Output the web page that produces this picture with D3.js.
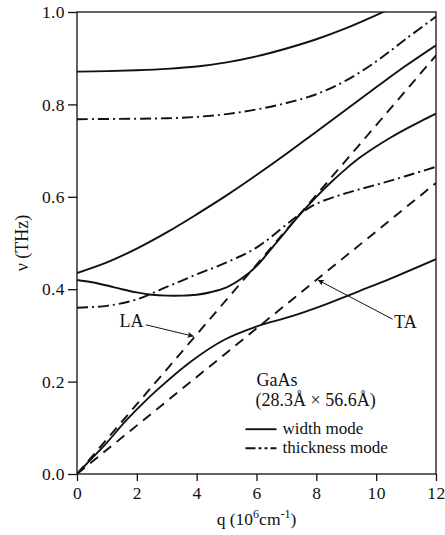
<!DOCTYPE html>
<html>
<head>
<meta charset="utf-8">
<script src="https://cdn.jsdelivr.net/npm/d3@7"></script>
<style>
  body { margin: 0; background: #fff; }
  svg text { font-family: "Liberation Serif", "Times New Roman", serif; fill: #111; }
</style>
</head>
<body>
<svg id="chart"></svg>
<script>
// Width mode branches (solid), [q, nu]
const widthTop = [[0,0.871],[1,0.872],[2,0.874],[3,0.877],[4,0.882],[5,0.891],[6,0.904],[7,0.921],[8,0.941],[9,0.965],[10,0.993],[10.4,1.005]];
const widthUpper = [[0,0.435],[1,0.458],[2,0.488],[3,0.523],[4,0.562],[5,0.603],[6,0.647],[7,0.693],[8,0.741],[9,0.789],[10,0.837],[11,0.884],[12,0.928]];
const widthLower = [[0,0.42],[0.5,0.415],[1,0.408],[1.5,0.4],[2,0.393],[2.5,0.388],[3,0.386],[3.5,0.386],[4,0.388],[4.5,0.394],[5,0.404],[5.5,0.423],[6,0.45],[6.5,0.488],[7,0.527],[7.5,0.565],[8,0.6],[8.5,0.632],[9,0.661],[9.5,0.687],[10,0.709],[10.5,0.729],[11,0.747],[11.5,0.764],[12,0.78]];
const widthLowest = [[0,0],[0.44,0.03],[1,0.068],[1.56,0.11],[2,0.14],[2.68,0.182],[3.8,0.243],[4.91,0.29],[6.04,0.32],[7.16,0.341],[8.27,0.366],[9.4,0.395],[10.52,0.424],[12,0.465]];

// Thickness mode branches (dash-dot)
const thickTop = [[0,0.768],[2,0.769],[3,0.77],[4,0.773],[5,0.779],[6,0.789],[7,0.803],[8,0.822],[9,0.852],[10,0.893],[11,0.942],[12,0.99]];
const thickLower = [[0,0.36],[1,0.364],[2,0.378],[3,0.405],[4,0.432],[5,0.458],[6,0.49],[7,0.54],[7.5,0.565],[8,0.585],[9,0.608],[10,0.626],[11,0.645],[12,0.665]];

// Bulk sound lines (dashed)
const laLine = [[0,0],[12,0.906]];
const taLine = [[0,0],[12,0.63]];

// Arrow annotations: label, label anchor, arrow tip (data units)
const arrowNotes = [
  {label: "LA", text: [1.42, 0.318], from: [2.3, 0.323], to: [3.9, 0.298]},
  {label: "TA", text: [10.6, 0.316], from: [10.55, 0.335], to: [8.05, 0.42]}
];

const xTicks = [0, 2, 4, 6, 8, 10, 12];
const yTicks = [0.0, 0.2, 0.4, 0.6, 0.8, 1.0];

const margin = {top: 12, right: 9, bottom: 61, left: 77},
    width = 445 - margin.left - margin.right,
    height = 535 - margin.top - margin.bottom;

const root = d3.select("#chart")
    .attr("width", 445)
    .attr("height", 535);

const svg = root.append("g")
    .attr("transform", `translate(${margin.left},${margin.top})`);

const x = d3.scaleLinear().domain([0, 12]).range([0, width]);
const y = d3.scaleLinear().domain([0, 1]).range([height, 0]);

svg.append("clipPath").attr("id", "clip")
  .append("rect").attr("width", width).attr("height", height);

// Axes
const xAxis = svg.append("g")
    .attr("transform", `translate(0,${height})`)
    .call(d3.axisBottom(x).tickValues(xTicks).tickSize(7).tickPadding(6).tickFormat(d3.format("d")));
const yAxis = svg.append("g")
    .call(d3.axisLeft(y).tickValues(yTicks).tickSize(9).tickPadding(3).tickFormat(d3.format(".1f")));
[xAxis, yAxis].forEach(a => {
  a.select(".domain").remove();
  a.selectAll("line").attr("stroke", "#111").attr("stroke-width", 1.3);
  a.selectAll("text").style("font-size", "17.5px").style("letter-spacing", "0.4px").attr("fill", "#111");
});

// Frame
svg.append("rect")
    .attr("width", width).attr("height", height)
    .attr("fill", "none").attr("stroke", "#111").attr("stroke-width", 1.3);

const line = d3.line()
    .x(d => x(d[0]))
    .y(d => y(d[1]))
    .curve(d3.curveCatmullRom);

const plot = svg.append("g").attr("clip-path", "url(#clip)");

[widthTop, widthUpper, widthLower, widthLowest].forEach(s => {
  plot.append("path").datum(s)
      .attr("d", line).attr("fill", "none")
      .attr("stroke", "#111").attr("stroke-width", 1.9);
});
[thickTop, thickLower].forEach(s => {
  plot.append("path").datum(s)
      .attr("d", line).attr("fill", "none")
      .attr("stroke", "#111").attr("stroke-width", 1.9)
      .attr("stroke-dasharray", "11,4,2,4");
});
[laLine, taLine].forEach(s => {
  plot.append("path").datum(s)
      .attr("d", d3.line().x(d => x(d[0])).y(d => y(d[1])))
      .attr("fill", "none")
      .attr("stroke", "#111").attr("stroke-width", 1.9)
      .attr("stroke-dasharray", "10,7");
});

// Arrow marker
root.append("defs").append("marker")
    .attr("id", "arrow")
    .attr("viewBox", "0 0 10 10")
    .attr("refX", 10).attr("refY", 5)
    .attr("markerWidth", 11).attr("markerHeight", 6)
    .attr("markerUnits", "userSpaceOnUse")
    .attr("orient", "auto")
  .append("path").attr("d", "M0,0L10,5L0,10L2,5z").attr("fill", "#111");

arrowNotes.forEach(n => {
  svg.append("line")
      .attr("x1", x(n.from[0])).attr("y1", y(n.from[1]))
      .attr("x2", x(n.to[0])).attr("y2", y(n.to[1]))
      .attr("stroke", "#111").attr("stroke-width", 1)
      .attr("marker-end", "url(#arrow)");
  svg.append("text")
      .attr("x", x(n.text[0])).attr("y", y(n.text[1]))
      .style("font-size", "18px")
      .text(n.label);
});

// Legend / caption
const cap = svg.append("g").attr("transform", `translate(${x(6)},${y(0.19)})`);
cap.append("text").attr("x", 0).attr("y", 0).style("font-size", "18px").text("GaAs");
cap.append("text").attr("x", -1).attr("y", 20).style("font-size", "18px").text("(28.3Å × 56.6Å)");
const legendItems = [
  {label: "width mode", dash: null, dy: 48},
  {label: "thickness mode", dash: "10,3,3,3,3,3", dy: 67}
];
legendItems.forEach(d => {
  cap.append("line")
      .attr("x1", -11).attr("x2", 20)
      .attr("y1", d.dy - 5).attr("y2", d.dy - 5)
      .attr("stroke", "#111").attr("stroke-width", 1.9)
      .attr("stroke-dasharray", d.dash);
  cap.append("text").attr("x", 26).attr("y", d.dy)
      .style("font-size", "17px").text(d.label);
});

// Axis titles
const xt = root.append("text")
    .attr("x", margin.left + width / 2).attr("y", 525)
    .attr("text-anchor", "middle").style("font-size", "17.5px");
xt.append("tspan").text("q (10");
xt.append("tspan").attr("dy", -7).style("font-size", "12px").text("6");
xt.append("tspan").attr("dy", 7).text("cm");
xt.append("tspan").attr("dy", -7).style("font-size", "12px").text("-1");
xt.append("tspan").attr("dy", 7).text(")");

root.append("text")
    .attr("transform", `translate(28,${margin.top + height / 2}) rotate(-90)`)
    .attr("text-anchor", "middle").style("font-size", "18px")
    .text("ν (THz)");
</script>
</body>
</html>
